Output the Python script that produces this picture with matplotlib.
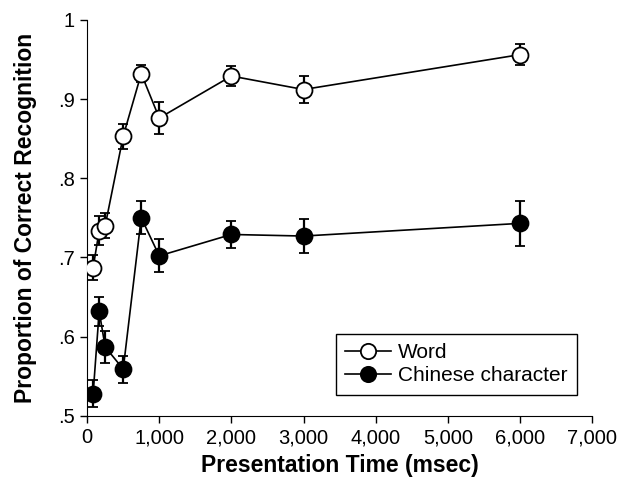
import matplotlib.pyplot as plt
from matplotlib.lines import Line2D
from matplotlib.ticker import FuncFormatter

plt.rcParams['font.family'] = ['Liberation Sans', 'DejaVu Sans']

times = [83, 167, 250, 500, 750, 1000, 2000, 3000, 6000]
word = [0.687, 0.734, 0.740, 0.853, 0.932, 0.876, 0.929, 0.912, 0.956]
word_err = [0.016, 0.018, 0.016, 0.016, 0.011, 0.020, 0.013, 0.017, 0.013]
chinese = [0.528, 0.632, 0.587, 0.559, 0.750, 0.702, 0.729, 0.727, 0.743]
chinese_err = [0.017, 0.018, 0.020, 0.017, 0.021, 0.021, 0.017, 0.021, 0.028]

x_ticks = [0, 1000, 2000, 3000, 4000, 5000, 6000, 7000]
y_ticks = [0.5, 0.6, 0.7, 0.8, 0.9, 1.0]

fig = plt.figure(figsize=(6.18, 4.83), dpi=100)
ax = fig.add_axes([0.141, 0.139, 0.817, 0.82])

style = dict(color='black', linewidth=1.2, markersize=11.5, markeredgewidth=1.3,
             capsize=3.5, elinewidth=1.6, capthick=1.6, markeredgecolor='black')
ax.errorbar(times, word, yerr=word_err, marker='o', markerfacecolor='white', zorder=3, **style)
ax.errorbar(times, chinese, yerr=chinese_err, marker='o', markerfacecolor='black', zorder=3, **style)

ax.set_xlim(0, 7000)
ax.set_ylim(0.5, 1.0)
ax.set_xticks(x_ticks)
ax.set_yticks(y_ticks)
ax.xaxis.set_major_formatter(FuncFormatter(lambda v, p: f"{int(v):,}"))
ax.yaxis.set_major_formatter(FuncFormatter(lambda v, p: "1" if v >= 0.999 else f"{v:.1f}".lstrip("0")))
ax.tick_params(direction='out', length=5, width=1, labelsize=14.5, pad=4)

for s in ['top', 'right']:
    ax.spines[s].set_visible(False)

ax.set_xlabel("Presentation Time (msec)", fontsize=16.5, fontweight='bold', labelpad=5)
ax.set_ylabel("Proportion of Correct Recognition", fontsize=16.5, fontweight='bold', labelpad=15)

handles = [
    Line2D([], [], color='black', lw=1.2, marker='o', ms=11, mfc='white', mec='black', mew=1.3),
    Line2D([], [], color='black', lw=1.2, marker='o', ms=11, mfc='black', mec='black', mew=1.3),
]
leg = ax.legend(handles, ['Word', 'Chinese character'], loc='lower right',
                bbox_to_anchor=(0.97, 0.053), borderaxespad=0, fontsize=15,
                frameon=True, fancybox=False, edgecolor='black', framealpha=1,
                handlelength=2.2, handletextpad=0.35, borderpad=0.45, labelspacing=0.2)
leg.get_frame().set_linewidth(1)

fig.savefig("out.png", dpi=100)
